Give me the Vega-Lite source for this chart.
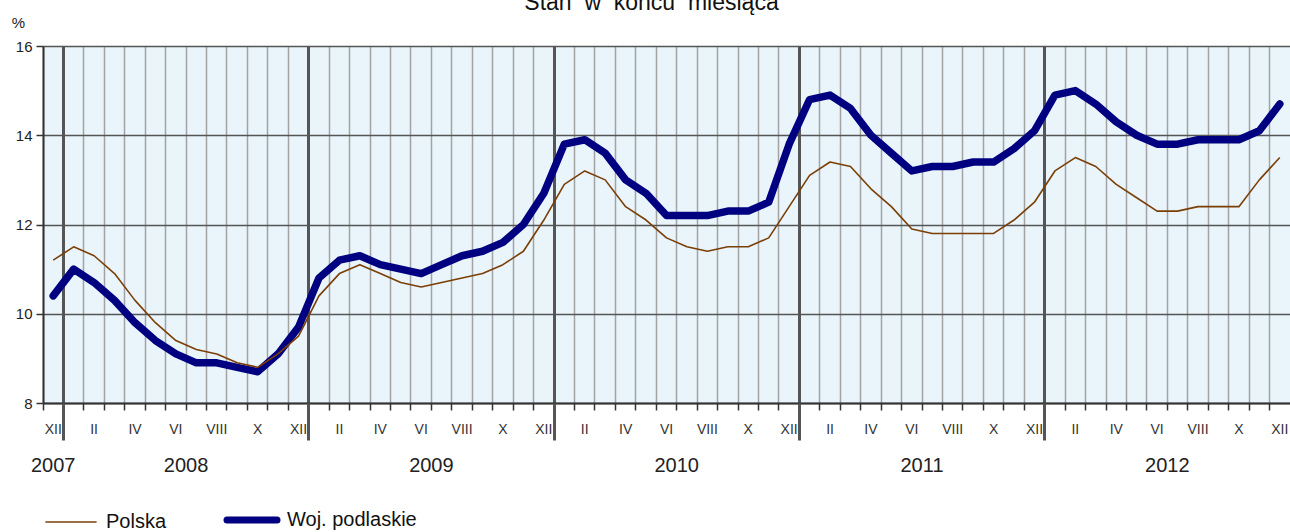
{
  "$schema": "https://vega.github.io/schema/vega-lite/v6.json",
  "width": 1247,
  "height": 357,
  "autosize": {"type": "none"},
  "padding": {"left": 43, "top": 46, "right": 0, "bottom": 129},
  "background": "white",
  "title": {"text": "Stan \u00a0w \u00a0końcu \u00a0miesiąca", "anchor": "middle", "frame": "group", "offset": 4, "dy": 22, "baseline": "alphabetic", "fontSize": 23, "font": "Liberation Sans", "fontWeight": "normal", "color": "#111111", "dx": -15},
  "config": {"view": {"fill": "#e9f4fb", "stroke": null}, "font": "Liberation Sans"},
  "data": {"values": [
    {"i":0,"s":"Polska","v":11.2},{"i":1,"s":"Polska","v":11.5},{"i":2,"s":"Polska","v":11.3},{"i":3,"s":"Polska","v":10.9},{"i":4,"s":"Polska","v":10.3},{"i":5,"s":"Polska","v":9.8},{"i":6,"s":"Polska","v":9.4},{"i":7,"s":"Polska","v":9.2},{"i":8,"s":"Polska","v":9.1},{"i":9,"s":"Polska","v":8.9},{"i":10,"s":"Polska","v":8.8},{"i":11,"s":"Polska","v":9.1},{"i":12,"s":"Polska","v":9.5},
    {"i":13,"s":"Polska","v":10.4},{"i":14,"s":"Polska","v":10.9},{"i":15,"s":"Polska","v":11.1},{"i":16,"s":"Polska","v":10.9},{"i":17,"s":"Polska","v":10.7},{"i":18,"s":"Polska","v":10.6},{"i":19,"s":"Polska","v":10.7},{"i":20,"s":"Polska","v":10.8},{"i":21,"s":"Polska","v":10.9},{"i":22,"s":"Polska","v":11.1},{"i":23,"s":"Polska","v":11.4},{"i":24,"s":"Polska","v":12.1},
    {"i":25,"s":"Polska","v":12.9},{"i":26,"s":"Polska","v":13.2},{"i":27,"s":"Polska","v":13.0},{"i":28,"s":"Polska","v":12.4},{"i":29,"s":"Polska","v":12.1},{"i":30,"s":"Polska","v":11.7},{"i":31,"s":"Polska","v":11.5},{"i":32,"s":"Polska","v":11.4},{"i":33,"s":"Polska","v":11.5},{"i":34,"s":"Polska","v":11.5},{"i":35,"s":"Polska","v":11.7},{"i":36,"s":"Polska","v":12.4},
    {"i":37,"s":"Polska","v":13.1},{"i":38,"s":"Polska","v":13.4},{"i":39,"s":"Polska","v":13.3},{"i":40,"s":"Polska","v":12.8},{"i":41,"s":"Polska","v":12.4},{"i":42,"s":"Polska","v":11.9},{"i":43,"s":"Polska","v":11.8},{"i":44,"s":"Polska","v":11.8},{"i":45,"s":"Polska","v":11.8},{"i":46,"s":"Polska","v":11.8},{"i":47,"s":"Polska","v":12.1},{"i":48,"s":"Polska","v":12.5},
    {"i":49,"s":"Polska","v":13.2},{"i":50,"s":"Polska","v":13.5},{"i":51,"s":"Polska","v":13.3},{"i":52,"s":"Polska","v":12.9},{"i":53,"s":"Polska","v":12.6},{"i":54,"s":"Polska","v":12.3},{"i":55,"s":"Polska","v":12.3},{"i":56,"s":"Polska","v":12.4},{"i":57,"s":"Polska","v":12.4},{"i":58,"s":"Polska","v":12.4},{"i":59,"s":"Polska","v":13.0},{"i":60,"s":"Polska","v":13.5},
    {"i":0,"s":"Woj. podlaskie","v":10.4},{"i":1,"s":"Woj. podlaskie","v":11.0},{"i":2,"s":"Woj. podlaskie","v":10.7},{"i":3,"s":"Woj. podlaskie","v":10.3},{"i":4,"s":"Woj. podlaskie","v":9.8},{"i":5,"s":"Woj. podlaskie","v":9.4},{"i":6,"s":"Woj. podlaskie","v":9.1},{"i":7,"s":"Woj. podlaskie","v":8.9},{"i":8,"s":"Woj. podlaskie","v":8.9},{"i":9,"s":"Woj. podlaskie","v":8.8},{"i":10,"s":"Woj. podlaskie","v":8.7},{"i":11,"s":"Woj. podlaskie","v":9.1},{"i":12,"s":"Woj. podlaskie","v":9.7},
    {"i":13,"s":"Woj. podlaskie","v":10.8},{"i":14,"s":"Woj. podlaskie","v":11.2},{"i":15,"s":"Woj. podlaskie","v":11.3},{"i":16,"s":"Woj. podlaskie","v":11.1},{"i":17,"s":"Woj. podlaskie","v":11.0},{"i":18,"s":"Woj. podlaskie","v":10.9},{"i":19,"s":"Woj. podlaskie","v":11.1},{"i":20,"s":"Woj. podlaskie","v":11.3},{"i":21,"s":"Woj. podlaskie","v":11.4},{"i":22,"s":"Woj. podlaskie","v":11.6},{"i":23,"s":"Woj. podlaskie","v":12.0},{"i":24,"s":"Woj. podlaskie","v":12.7},
    {"i":25,"s":"Woj. podlaskie","v":13.8},{"i":26,"s":"Woj. podlaskie","v":13.9},{"i":27,"s":"Woj. podlaskie","v":13.6},{"i":28,"s":"Woj. podlaskie","v":13.0},{"i":29,"s":"Woj. podlaskie","v":12.7},{"i":30,"s":"Woj. podlaskie","v":12.2},{"i":31,"s":"Woj. podlaskie","v":12.2},{"i":32,"s":"Woj. podlaskie","v":12.2},{"i":33,"s":"Woj. podlaskie","v":12.3},{"i":34,"s":"Woj. podlaskie","v":12.3},{"i":35,"s":"Woj. podlaskie","v":12.5},{"i":36,"s":"Woj. podlaskie","v":13.8},
    {"i":37,"s":"Woj. podlaskie","v":14.8},{"i":38,"s":"Woj. podlaskie","v":14.9},{"i":39,"s":"Woj. podlaskie","v":14.6},{"i":40,"s":"Woj. podlaskie","v":14.0},{"i":41,"s":"Woj. podlaskie","v":13.6},{"i":42,"s":"Woj. podlaskie","v":13.2},{"i":43,"s":"Woj. podlaskie","v":13.3},{"i":44,"s":"Woj. podlaskie","v":13.3},{"i":45,"s":"Woj. podlaskie","v":13.4},{"i":46,"s":"Woj. podlaskie","v":13.4},{"i":47,"s":"Woj. podlaskie","v":13.7},{"i":48,"s":"Woj. podlaskie","v":14.1},
    {"i":49,"s":"Woj. podlaskie","v":14.9},{"i":50,"s":"Woj. podlaskie","v":15.0},{"i":51,"s":"Woj. podlaskie","v":14.7},{"i":52,"s":"Woj. podlaskie","v":14.3},{"i":53,"s":"Woj. podlaskie","v":14.0},{"i":54,"s":"Woj. podlaskie","v":13.8},{"i":55,"s":"Woj. podlaskie","v":13.8},{"i":56,"s":"Woj. podlaskie","v":13.9},{"i":57,"s":"Woj. podlaskie","v":13.9},{"i":58,"s":"Woj. podlaskie","v":13.9},{"i":59,"s":"Woj. podlaskie","v":14.1},{"i":60,"s":"Woj. podlaskie","v":14.7}
  ]},
  "encoding": {
    "y": {"field": "v", "type": "quantitative",
      "scale": {"domain": [8, 16], "nice": false, "zero": false},
      "axis": {"values": [8, 10, 12, 14, 16], "title": "%", "titleAngle": 0, "titleX": -25, "titleY": -24, "titleAlign": "center", "titleBaseline": "middle", "titleFontSize": 15, "titleFontWeight": "normal", "titleColor": "#222222",
        "grid": true, "gridColor": "#555555", "gridWidth": 1.3, "domainColor": "#333333", "domainWidth": 2, "tickColor": "#333333", "tickSize": 7, "tickWidth": 1.5, "labelFontSize": 15, "labelColor": "#222222", "labelPadding": 4}},
    "color": {"field": "s", "type": "nominal",
      "scale": {"domain": ["Polska", "Woj. podlaskie"], "range": ["#7b3f06", "#000080"]},
      "legend": {"orient": "none", "legendX": 18, "legendY": 464, "direction": "horizontal", "title": null, "symbolType": "stroke", "symbolSize": 2500, "labelFontSize": 20, "labelColor": "#111111", "columnPadding": 46, "labelOffset": 25,
        "encode": {"symbols": {"update": {"strokeWidth": {"signal": "datum.value == 'Polska' ? 1.6 : 7"}, "strokeCap": {"value": "round"}}}}}}
  },
  "layer": [
    {
      "transform": [{"filter": "datum.s == 'Woj. podlaskie'"}],
      "mark": {"type": "line", "strokeCap": "round", "strokeJoin": "round", "strokeWidth": 7.5},
      "encoding": {
        "x": {"field": "i", "type": "ordinal", "bandPosition": 0.5,
          "scale": {"type": "band", "paddingInner": 0, "paddingOuter": 0, "domain": [0,1,2,3,4,5,6,7,8,9,10,11,12,13,14,15,16,17,18,19,20,21,22,23,24,25,26,27,28,29,30,31,32,33,34,35,36,37,38,39,40,41,42,43,44,45,46,47,48,49,50,51,52,53,54,55,56,57,58,59,60]},
          "axis": {"title": null, "orient": "bottom", "bandPosition": 0, "labelAngle": 0, "labelOverlap": false,
            "labelExpr": "datum.value % 2 == 0 ? ['XII','I','II','III','IV','V','VI','VII','VIII','IX','X','XI'][datum.value % 12] : ''",
            "labelFontSize": 14, "labelColor": "#333333", "labelPadding": 12, "labelBaseline": "top",
            "grid": true, "gridColor": "#a3a3a3", "gridWidth": 1.5,
            "gridOpacity": {"condition": {"test": "datum.value % 12 == 1", "value": 0}, "value": 1},
            "tickColor": "#333333", "tickSize": 7, "tickWidth": 1.5,
            "domainColor": "#333333", "domainWidth": 2}}
      }
    },
    {
      "transform": [{"filter": "datum.s == 'Polska'"}],
      "mark": {"type": "line", "strokeJoin": "round", "strokeWidth": 1.6},
      "encoding": {
        "x": {"field": "i", "type": "ordinal", "bandPosition": 0.5,
          "scale": {"type": "band", "paddingInner": 0, "paddingOuter": 0, "domain": [0,1,2,3,4,5,6,7,8,9,10,11,12,13,14,15,16,17,18,19,20,21,22,23,24,25,26,27,28,29,30,31,32,33,34,35,36,37,38,39,40,41,42,43,44,45,46,47,48,49,50,51,52,53,54,55,56,57,58,59,60]},
          "axis": {"title": null, "orient": "bottom", "bandPosition": 0, "values": [0, 1, 13, 25, 37, 49], "labelAngle": 0, "labelOverlap": false,
            "labelExpr": "datum.value == 0 ? '2007' : '' + (2008 + (datum.value - 1) / 12)",
            "labelOffset": {"condition": {"test": "datum.value == 0", "value": 0}, "value": 112.4},
            "labelFontSize": 20, "labelColor": "#222222", "labelPadding": 15, "labelBaseline": "top",
            "grid": true, "gridColor": "#555555", "gridWidth": 3,
            "gridOpacity": {"condition": {"test": "datum.value == 0", "value": 0}, "value": 1},
            "ticks": true, "tickColor": "#555555", "tickSize": 37, "tickWidth": 3,
            "tickOpacity": {"condition": {"test": "datum.value == 0", "value": 0}, "value": 1},
            "domain": false}}
      }
    }
  ],
  "resolve": {"axis": {"x": "independent"}}
}
